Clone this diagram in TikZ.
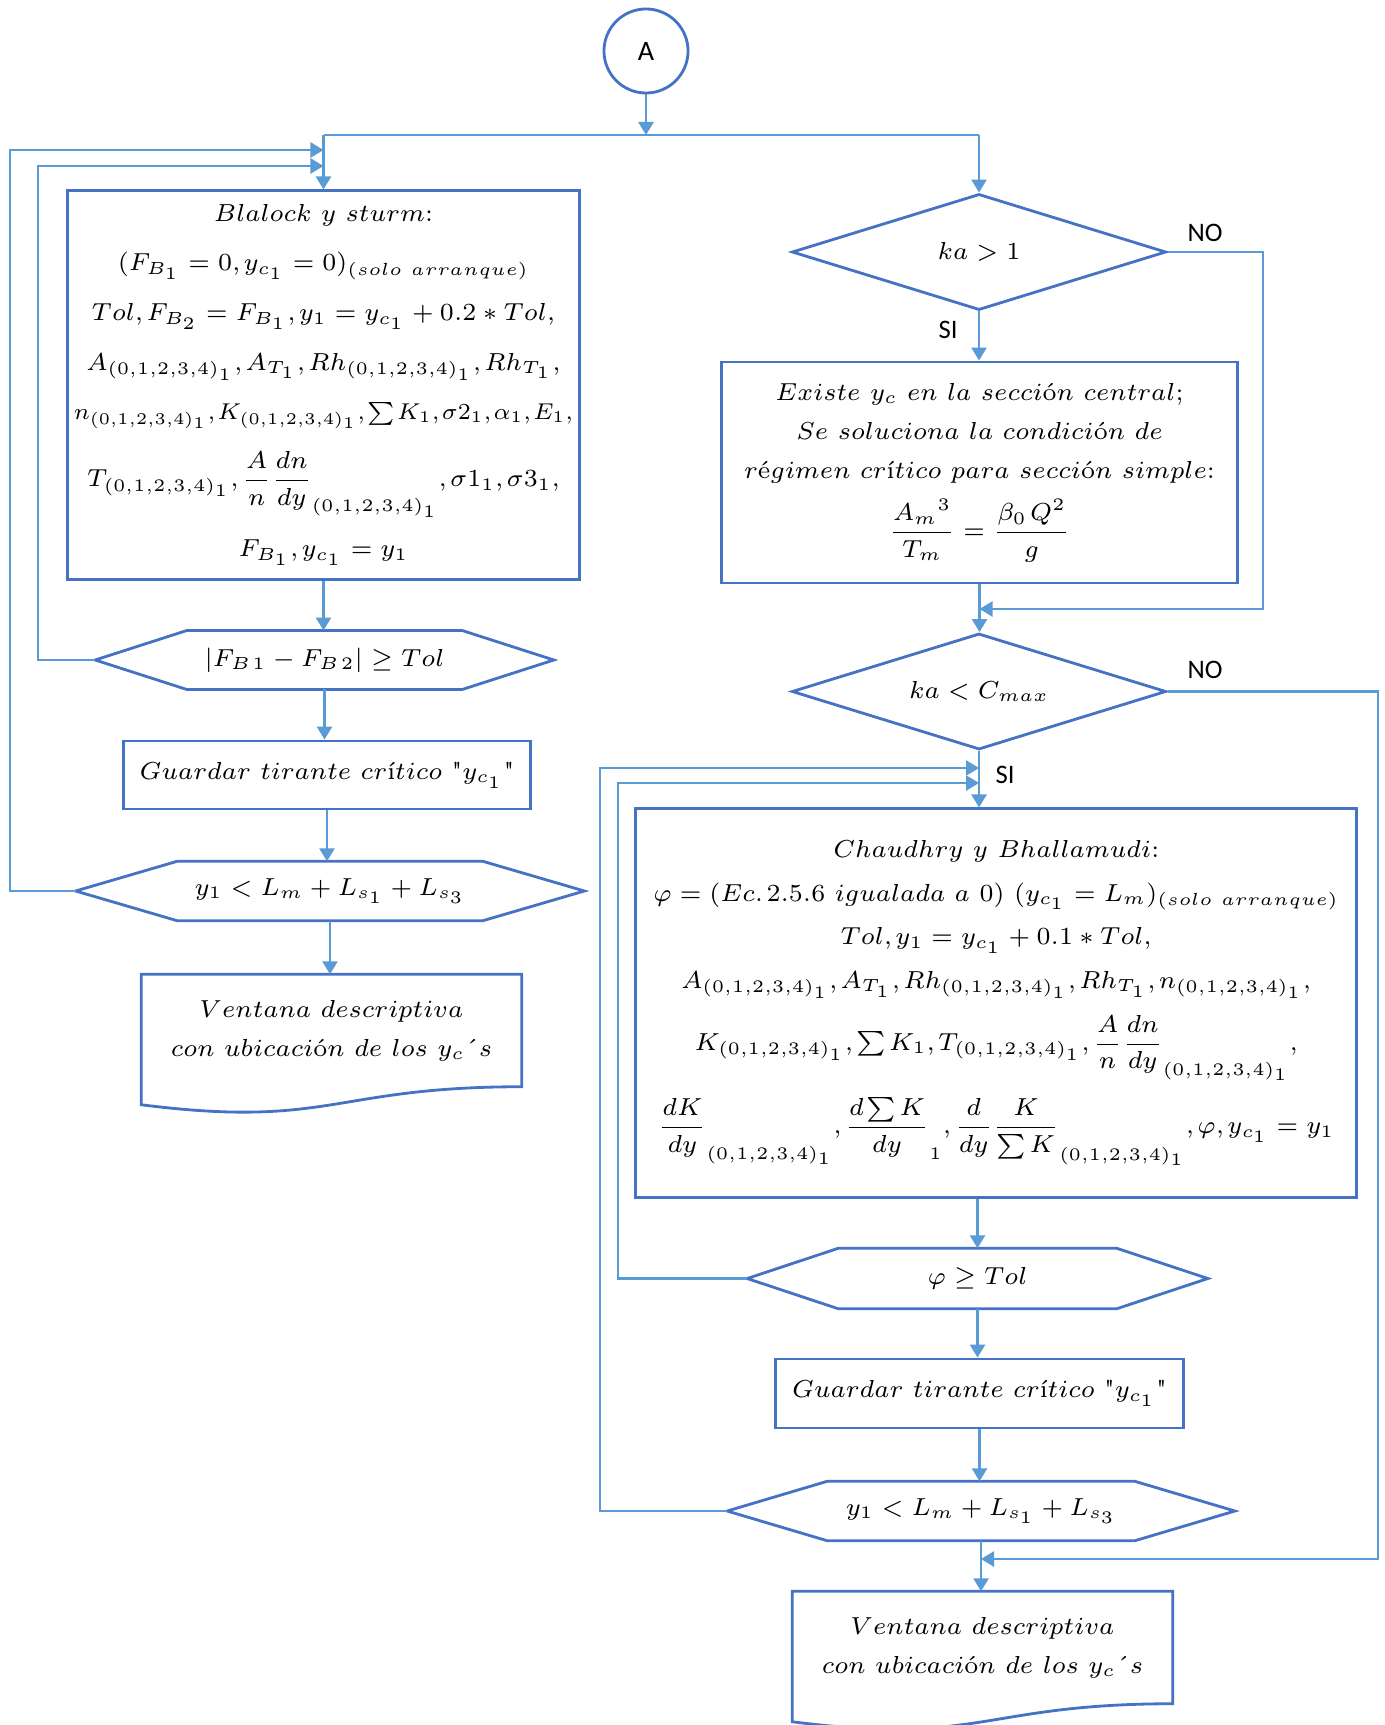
\documentclass[tikz,border=0pt]{standalone}
\usepackage{amsmath,amssymb,graphicx}
\usepackage{fontspec}
\newfontfamily\calibri{Carlito}
\usetikzlibrary{shapes.geometric,arrows.meta,calc}
\definecolor{borde}{RGB}{68,114,196}
\definecolor{flujo}{RGB}{91,155,213}
% contornos de hexagono y de documento
\newcommand{\hexa}[2]{\draw[marco] (#1.west) -- ([xshift=#2]#1.north west) -- ([xshift=-#2]#1.north east) -- (#1.east) -- ([xshift=-#2]#1.south east) -- ([xshift=#2]#1.south west) -- cycle;}
\newcommand{\docu}[1]{\draw[marco] (#1.south east) .. controls +(-189.5,0) and +(189.5,24) .. ($(#1.south west)+(0,18)$) -- (#1.north west) -- (#1.north east) -- cycle;}
\newcommand{\letra}{\fontsize{7}{8.6}\selectfont\thinmuskip=2mu}
\begin{document}
\begin{tikzpicture}[x=0.01cm,y=-0.01cm,
marco/.style={draw=borde,line width=0.8pt},
caja/.style={marco,rectangle,inner sep=0pt,align=center,font=\letra},
hueco/.style={rectangle,inner sep=0pt,align=center,font=\letra},
rombo/.style={marco,diamond,aspect=3.2,inner sep=0pt,font=\letra},
linea/.style={draw=flujo,line width=0.65pt},
flecha/.style={linea,-{Triangle[length=3.7pt,width=4.3pt]}},
rotulo/.style={font=\calibri\fontsize{7.6}{9}\selectfont}]
\useasboundingbox (0,0) rectangle (1384,1725);

\node[marco,circle,minimum size=0.84cm,inner sep=0pt,font=\calibri\fontsize{8}{9}\selectfont] (A) at (646,51) {A};
\coordinate (jA) at (648,135);

% columna izquierda
\node[caja,minimum width=5.11cm,minimum height=3.88cm] (b1) at (323.5,385) {%
$Blalock\ y\ sturm$:\\[5.5pt]
$(F_{B_1}=0,y_{c_1}=0)_{(solo\ arranque)}$\\[5.5pt]
$Tol,F_{B_2}=F_{B_1},y_1=y_{c_1}+0.2*Tol,$\\[5.5pt]
$A_{(0,1,2,3,4)_1},A_{T_1},Rh_{(0,1,2,3,4)_1},Rh_{T_1},$\\[5.5pt]
\scalebox{0.93}{$\thinmuskip=1.5mu n_{(0,1,2,3,4)_1},K_{(0,1,2,3,4)_1},\sum K_1,\sigma2_1,\alpha_1,E_1,$}\\[5.5pt]
$T_{(0,1,2,3,4)_1},{\dfrac{A}{n}\dfrac{dn}{dy}}_{(0,1,2,3,4)_1},\sigma1_1,\sigma3_1,$\\[5.5pt]
$F_{B_1},y_{c_1}=y_1$};
\node[hueco,minimum width=4.57cm,minimum height=0.575cm] (h1) at (324.5,660) {$|F_{B\,1}-F_{B\,2}|\geq Tol$};
\hexa{h1}{0.915cm}
\node[caja,minimum width=4.07cm,minimum height=0.68cm] (g1) at (327,775) {$Guardar\ tirante\ cr\text{í}tico\ \text{\textquotedbl}y_{c_1}\text{\textquotedbl}$};
\node[hueco,minimum width=5.07cm,minimum height=0.58cm] (h2) at (330,891) {$y_1<L_m+L_{s_1}+L_{s_3}$};
\hexa{h2}{1.015cm}
\node[hueco,minimum width=3.79cm,minimum height=1.11cm] (v1) at (331.5,1030.5) {$Ventana\ descriptiva$\\[2.5pt]$con\ ubicaci\text{ó}n\ de\ los\ y_c\text{´}s$};
\docu{v1}

% columna derecha
\node[rombo,minimum width=3.74cm,minimum height=1.16cm] (d1) at (979,252) {$ka>1$};
\node[caja,minimum width=5.15cm,minimum height=2.21cm] (e1) at (979.5,472.5) {%
$Existe\ y_c\ en\ la\ secci\text{ó}n\ central;$\\[2.5pt]
$Se\ soluciona\ la\ condici\text{ó}n\ de$\\[2.5pt]
$r\text{é}gimen\ cr\text{í}tico\ para\ secci\text{ó}n\ simple$:\\[3.5pt]
$\dfrac{{A_m}^3}{T_m}=\dfrac{\beta_0\,Q^2}{g}$};
\node[rombo,minimum width=3.74cm,minimum height=1.16cm] (d2) at (979,691.5) {$ka<C_{max}$};
\node[caja,minimum width=7.205cm,minimum height=3.88cm] (c1) at (996.25,1003) {%
$Chaudhry\ y\ Bhallamudi$:\\[3.8pt]
$\varphi=(Ec.\,2.5.6\ igualada\ a\ 0)\ (y_{c_1}=L_m)_{(solo\ arranque)}$\\[3.8pt]
$Tol,y_1=y_{c_1}+0.1*Tol,$\\[3.8pt]
$A_{(0,1,2,3,4)_1},A_{T_1},Rh_{(0,1,2,3,4)_1},Rh_{T_1},n_{(0,1,2,3,4)_1},$\\[3.8pt]
$K_{(0,1,2,3,4)_1},\sum K_1,T_{(0,1,2,3,4)_1},{\dfrac{A}{n}\dfrac{dn}{dy}}_{(0,1,2,3,4)_1},$\\[3.8pt]
${\dfrac{dK}{dy}}_{(0,1,2,3,4)_1},{\dfrac{d\sum K}{dy}}_1,{\dfrac{d}{dy}\dfrac{K}{\sum K}}_{(0,1,2,3,4)_1},\varphi,y_{c_1}=y_1$};
\node[hueco,minimum width=4.59cm,minimum height=0.59cm] (h3) at (977.5,1278.5) {$\varphi\geq Tol$};
\hexa{h3}{0.91cm}
\node[caja,minimum width=4.07cm,minimum height=0.69cm] (g2) at (979.5,1393.5) {$Guardar\ tirante\ cr\text{í}tico\ \text{\textquotedbl}y_{c_1}\text{\textquotedbl}$};
\node[hueco,minimum width=5.06cm,minimum height=0.58cm] (h4) at (981,1511) {$y_1<L_m+L_{s_1}+L_{s_3}$};
\hexa{h4}{1.0cm}
\node[hueco,minimum width=3.79cm,minimum height=1.11cm] (v2) at (982.5,1647.5) {$Ventana\ descriptiva$\\[2.5pt]$con\ ubicaci\text{ó}n\ de\ los\ y_c\text{´}s$};
\docu{v2}

\node[rotulo] (no1) at (1205,233) {NO};
\node[rotulo] (si1) at (948,330) {SI};
\node[rotulo] (no2) at (1205,670) {NO};
\node[rotulo] (si2) at (1005,775) {SI};

% conectores
\draw[flecha] (A.south) -- (A.south |- jA);
\draw[linea] (b1.north |- jA) -- (d1.north |- jA);
\draw[flecha] (b1.north |- jA) -- (b1.north);
\draw[flecha] (b1.south) -- (b1.south |- h1.north);
\draw[flecha] (h1.south) -- (h1.south |- g1.north);
\draw[flecha] (g1.south) -- (g1.south |- h2.north);
\draw[flecha] (h2.south) -- (h2.south |- v1.north);
\draw[flecha] (h1.west) -| (38,166) -- (b1.north |- 0,166);
\draw[flecha] (h2.west) -| (10,150) -- (b1.north |- 0,150);

\draw[flecha] (d1.north |- jA) -- (d1.north);
\draw[flecha] (d1.south) -- (d1.south |- e1.north);
\draw[flecha] (e1.south) -- (e1.south |- d2.north);
\draw[flecha] (d1.east) -| (1263,609) -- (e1.south |- 0,609);
\draw[flecha] (d2.south) -- (d2.south |- c1.north);
\draw[flecha] (d2.east) -| (1378,1559) -- (h4.south |- 0,1559);
\draw[flecha] (h4.west) -| (600,768) -- (d2.south |- 0,768);
\draw[flecha] (h3.west) -| (618,783) -- (d2.south |- 0,783);
\draw[flecha] (h3.north |- c1.south) -- (h3.north);
\draw[flecha] (h3.south) -- (h3.south |- g2.north);
\draw[flecha] (g2.south) -- (g2.south |- h4.north);
\draw[flecha] (h4.south) -- (h4.south |- v2.north);
\end{tikzpicture}
\end{document}
